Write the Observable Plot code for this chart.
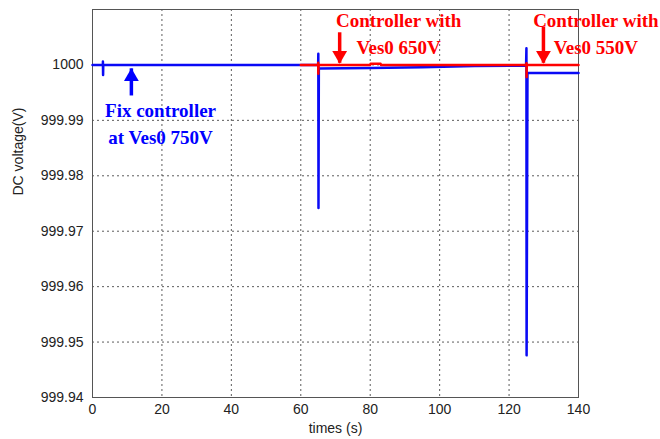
<!DOCTYPE html>
<html><head><meta charset="utf-8">
<script src="https://cdn.jsdelivr.net/npm/d3@7"></script>
<script src="https://cdn.jsdelivr.net/npm/@observablehq/plot@0.6"></script>
<style>body{margin:0;background:#fff}svg{font-family:"Liberation Sans",Arial,sans-serif}</style>
</head><body><div id="chart"></div>
<script>
// Fix controller (blue) trace
const blueT = [0, 3.0, 3.0, 3.05, 3.1, 65.0, 65.05, 65.1, 65.2, 80, 95, 110, 124.9, 125.0, 125.05, 125.3, 140];
const blueV = [1000, 1000, 1000.0006, 999.9982, 1000, 1000, 1000.002, 999.9742, 999.99935, 999.99945, 999.9996, 999.9998, 999.9999, 1000.003, 999.9476, 999.99856, 999.99856];
// Adaptive controller (red) trace
const redT = [60, 65.0, 65.02, 65.05, 65.1, 80, 80.1, 83, 83.1, 125.0, 125.02, 125.05, 125.1, 140];
const redV = [1000, 1000, 1000.0004, 999.9984, 1000, 1000, 1000.0002, 1000.0002, 1000, 1000, 1000.0003, 999.9978, 1000, 1000];

const xTicks = [0, 20, 40, 60, 80, 100, 120, 140];
const yTicks = [999.94, 999.95, 999.96, 999.97, 999.98, 999.99, 1000];
const xLabel = "times (s)";
const yLabel = "DC voltage(V)";

// annotations
const labelText = ["Controller with", "Ves0 650V", "Controller with", "Ves0 550V", "Fix controller", "at Ves0 750V"];
const labelT = [88.2, 88.2, 145.0, 145.0, 19.6, 19.6];
const labelV = [1000.0079, 1000.0031, 1000.0079, 1000.0031, 999.9917, 999.9868];
const labelColor = ["red", "red", "red", "red", "blue", "blue"];
const arrowT = [71.2, 129.9, 11.2];
const arrowFrom = [1000.0058, 1000.0068, 999.9944];
const arrowTo = [1000.0003, 1000.0003, 999.9993];
const arrowColor = ["red", "red", "blue"];
const arrowDir = ["down", "down", "up"];

const blue = blueT.map((t, i) => ({t, v: blueV[i]}));
const red = redT.map((t, i) => ({t, v: redV[i]}));
const labels = labelText.map((s, i) => ({s, t: labelT[i], v: labelV[i], c: labelColor[i]}));
const arrows = arrowT.map((t, i) => ({t, v1: arrowFrom[i], v2: arrowTo[i], c: arrowColor[i], d: arrowDir[i]}));
const colorMap = {red: "#ff0000", blue: "#0000ff"};
const fmtY = d => Math.abs(d - 1000) < 1e-9 ? "1000" : d3.format(".2f")(d);

const chart = Plot.plot({
  width: 660, height: 439,
  marginLeft: 92, marginRight: 82, marginTop: 9, marginBottom: 42,
  style: {fontFamily: "'Liberation Sans', Arial, sans-serif", color: "#222", overflow: "visible"},
  x: {domain: [0, 140]},
  y: {domain: [999.94, 1000.01]},
  marks: [
    Plot.gridX(xTicks.slice(1, -1), {stroke: "#333", strokeOpacity: 0.8, strokeDasharray: "2,3"}),
    Plot.gridY(yTicks.slice(1), {stroke: "#333", strokeOpacity: 0.8, strokeDasharray: "2,3"}),
    Plot.axisX({ticks: xTicks, tickSize: 0, tickPadding: 7, fontSize: 14, label: xLabel, labelAnchor: "center", labelArrow: "none", labelOffset: 35}),
    Plot.axisY({ticks: yTicks, tickSize: 0, tickPadding: 9, fontSize: 14, tickFormat: fmtY, label: null}),
    Plot.frame({stroke: "#555", strokeWidth: 1}),
    Plot.line(blue, {x: "t", y: "v", stroke: "#0a0af5", strokeWidth: 2.5, curve: "linear"}),
    Plot.line(red, {x: "t", y: "v", stroke: "#ff0000", strokeWidth: 2.5, curve: "linear"}),
    Plot.ruleX(arrows, {x: "t", y1: "v1", y2: "v2", stroke: d => colorMap[d.c], strokeWidth: 3.5}),
    Plot.dot(arrows.filter(d => d.d === "down"), {x: "t", y: "v2", symbol: "triangle", r: 5.5, rotate: 180, dy: -8, fill: d => colorMap[d.c], stroke: "none"}),
    Plot.dot(arrows.filter(d => d.d === "up"), {x: "t", y: "v2", symbol: "triangle", r: 5.5, dy: 8, fill: d => colorMap[d.c], stroke: "none"}),
    Plot.text(labels, {x: "t", y: "v", text: "s", fill: d => colorMap[d.c], fontFamily: "'Liberation Serif', 'Times New Roman', serif", fontWeight: "bold", fontSize: 19, clip: false}),
    Plot.text([yLabel], {frameAnchor: "left", text: d => d, rotate: -90, dx: -74, dy: -8, fontSize: 14, fill: "#222"})
  ]
});
document.getElementById("chart").appendChild(chart);
</script></body></html>
